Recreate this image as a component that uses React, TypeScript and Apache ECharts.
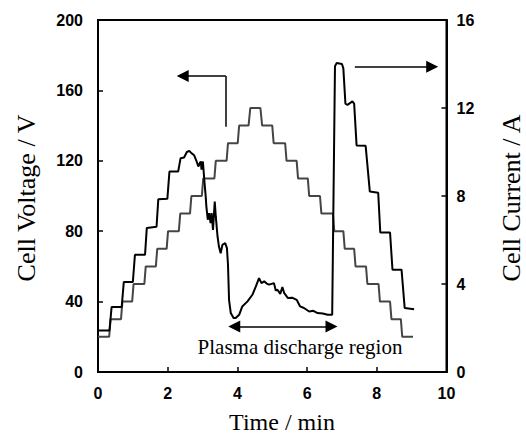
import React, { useEffect, useRef } from "react";
import * as echarts from "echarts";

// Time axis (min) and value axes
const timeRange = { min: 0, max: 10, interval: 2 };
const voltageRange = { min: 0, max: 200, interval: 40 };
const currentRange = { min: 0, max: 16, interval: 4 };

// Cell voltage (V) vs time (min) — staircase
const voltageData: [number, number][] = [
  [0, 20], [0.32, 20], [0.36, 30], [0.66, 30], [0.7, 40], [0.98, 40], [1.02, 50],
  [1.33, 50], [1.37, 60], [1.66, 60], [1.7, 70], [1.97, 70], [2.01, 80], [2.32, 80],
  [2.36, 90], [2.64, 90], [2.68, 100], [2.98, 100], [3.02, 110], [3.34, 110], [3.38, 120],
  [3.69, 120], [3.73, 130], [4.01, 130], [4.05, 140], [4.32, 140], [4.37, 150], [4.66, 150],
  [4.71, 140], [5.0, 140], [5.04, 130], [5.37, 130], [5.41, 120], [5.7, 120], [5.74, 110],
  [6.02, 110], [6.06, 100], [6.37, 100], [6.41, 90], [6.74, 90], [6.78, 80], [7.04, 80],
  [7.08, 70], [7.35, 70], [7.39, 60], [7.69, 60], [7.73, 50], [8.05, 50], [8.09, 40],
  [8.38, 40], [8.42, 30], [8.69, 30], [8.73, 20], [9.04, 20],
];

// Cell current (A) vs time (min)
const currentData: [number, number][] = [
  [0, 1.89], [0.33, 1.89], [0.39, 2.95], [0.68, 2.95], [0.74, 4.09], [1.0, 4.09],
  [1.06, 5.33], [1.35, 5.33], [1.4, 6.55], [1.68, 6.6], [1.73, 7.85], [1.99, 7.87],
  [2.05, 9.11], [2.3, 9.11], [2.37, 9.72], [2.47, 9.75], [2.55, 10.0], [2.62, 10.05],
  [2.68, 9.95], [2.76, 9.85], [2.83, 9.57], [2.88, 9.34], [2.92, 9.5], [2.95, 9.57],
  [2.97, 9.2], [3.01, 9.57], [3.05, 8.73], [3.09, 7.98], [3.11, 7.52], [3.15, 6.92],
  [3.19, 7.22], [3.23, 6.77], [3.26, 7.22], [3.3, 6.46], [3.35, 7.75], [3.38, 7.07],
  [3.43, 6.16], [3.47, 5.7], [3.52, 5.4], [3.57, 5.78], [3.65, 5.86], [3.7, 5.63],
  [3.73, 4.87], [3.76, 3.28], [3.81, 2.68], [3.89, 2.45], [3.95, 2.45], [4.05, 2.6],
  [4.14, 2.98], [4.29, 3.21], [4.43, 3.51], [4.53, 3.89], [4.62, 4.27], [4.69, 4.04],
  [4.77, 4.12], [4.84, 4.02], [4.91, 3.97], [5.05, 4.04], [5.1, 3.7], [5.15, 3.74],
  [5.23, 3.55], [5.29, 3.86], [5.34, 3.6], [5.45, 3.36], [5.57, 3.38], [5.7, 3.28],
  [5.8, 2.98], [5.91, 2.91], [6.06, 2.75], [6.18, 2.78], [6.3, 2.68], [6.45, 2.66],
  [6.59, 2.6], [6.72, 2.6], [6.8, 13.9], [6.85, 14.05], [7.0, 14.0], [7.04, 13.8],
  [7.1, 12.2], [7.16, 12.14], [7.3, 12.3], [7.35, 12.2], [7.42, 10.3], [7.68, 10.28],
  [7.8, 8.2], [8.04, 8.15], [8.1, 6.34], [8.38, 6.34], [8.45, 4.65], [8.71, 4.65],
  [8.8, 2.91], [9.07, 2.85],
];

// Annotation arrows in (time, voltage) coordinates; arrow ends are the head centres
const voltagePointerStem: [number, number][] = [[3.67, 139.4], [3.67, 168.2]];
const voltagePointerHead: [number, number][] = [[3.67, 168.2], [2.43, 168.2]];
const currentPointer: [number, number][] = [[7.37, 173.5], [9.59, 173.5]];
const plasmaRange: [number, number][] = [[3.91, 25.9], [6.7, 25.9]];

const serif = '"Liberation Serif", "Times New Roman", serif';
const sans = '"Liberation Sans", Arial, sans-serif';

export default function App() {
  const ref = useRef<HTMLDivElement>(null);

  useEffect(() => {
    if (!ref.current) return;
    const chart = echarts.init(ref.current, undefined, { renderer: "svg" });

    const axisLabel = {
      color: "#000",
      fontSize: 16,
      fontWeight: "bold" as const,
      fontFamily: sans,
    };
    const axisLine = { show: true, lineStyle: { color: "#000", width: 2 } };
    const axisTick = { show: true, inside: true, length: 5, lineStyle: { color: "#000", width: 1.5 } };
    const arrowLine = { color: "#000", width: 1.5, type: "solid" as const };

    chart.setOption({
      animation: false,
      backgroundColor: "#fff",
      grid: {
        left: 98,
        right: 79.5,
        top: 20,
        bottom: 64,
        show: true,
        borderColor: "#000",
        borderWidth: 2,
        backgroundColor: "transparent",
      },
      xAxis: {
        type: "value",
        ...timeRange,
        axisLine: { ...axisLine, onZero: false },
        axisTick,
        axisLabel: { ...axisLabel, margin: 13 },
        splitLine: { show: false },
      },
      yAxis: [
        {
          type: "value",
          position: "left",
          ...voltageRange,
          axisLine,
          axisTick,
          axisLabel: { ...axisLabel, margin: 15 },
          splitLine: { show: false },
        },
        {
          type: "value",
          position: "right",
          ...currentRange,
          axisLine,
          axisTick,
          axisLabel: { ...axisLabel, margin: 10 },
          splitLine: { show: false },
        },
      ],
      series: [
        {
          name: "Cell Voltage",
          type: "line",
          yAxisIndex: 0,
          data: voltageData,
          showSymbol: false,
          symbol: "none",
          lineStyle: { color: "#454545", width: 2 },
          silent: true,
          markLine: {
            silent: true,
            animation: false,
            label: { show: false },
            lineStyle: arrowLine,
            symbolSize: [12, 12],
            data: [
              [
                { coord: voltagePointerStem[0], symbol: "none" },
                { coord: voltagePointerStem[1], symbol: "none" },
              ],
              [
                { coord: voltagePointerHead[0], symbol: "none" },
                { coord: voltagePointerHead[1], symbol: "triangle" },
              ],
              [
                { coord: currentPointer[0], symbol: "none" },
                { coord: currentPointer[1], symbol: "triangle" },
              ],
              [
                { coord: plasmaRange[0], symbol: "triangle" },
                { coord: plasmaRange[1], symbol: "triangle" },
              ],
            ],
          },
        },
        {
          name: "Cell Current",
          type: "line",
          yAxisIndex: 1,
          data: currentData,
          showSymbol: false,
          symbol: "none",
          lineStyle: { color: "#000", width: 2 },
          silent: true,
        },
      ],
      graphic: [
        {
          type: "text",
          x: 282,
          y: 422,
          style: {
            text: "Time / min",
            fontSize: 24,
            fontFamily: serif,
            fill: "#000",
            align: "center",
            verticalAlign: "middle",
          },
        },
        {
          type: "text",
          x: 26,
          y: 198,
          rotation: Math.PI / 2,
          style: {
            text: "Cell Voltage / V",
            fontSize: 26,
            fontFamily: serif,
            fill: "#000",
            align: "center",
            verticalAlign: "middle",
          },
        },
        {
          type: "text",
          x: 511,
          y: 198,
          rotation: Math.PI / 2,
          style: {
            text: "Cell Current / A",
            fontSize: 26,
            fontFamily: serif,
            fill: "#000",
            align: "center",
            verticalAlign: "middle",
          },
        },
        {
          type: "text",
          x: 300,
          y: 347,
          style: {
            text: "Plasma discharge region",
            fontSize: 21,
            fontFamily: serif,
            fill: "#000",
            align: "center",
            verticalAlign: "middle",
          },
        },
      ],
    });

    return () => chart.dispose();
  }, []);

  return (
    <div
      ref={ref}
      style={{ position: "absolute", left: 0, top: 0, width: 526, height: 436 }}
    />
  );
}
